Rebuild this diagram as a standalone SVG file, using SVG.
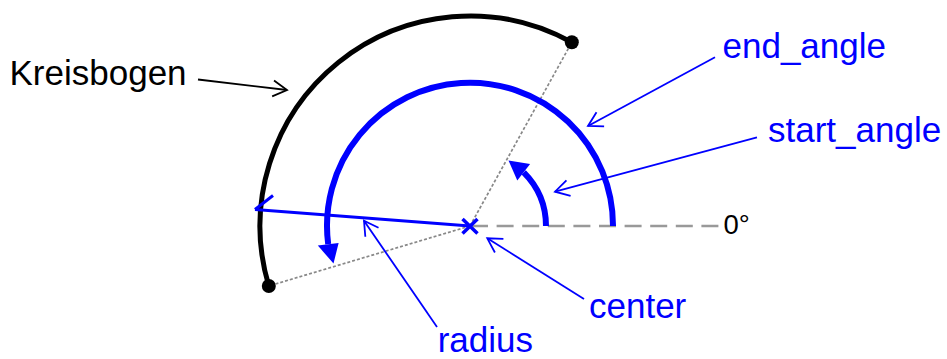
<svg xmlns="http://www.w3.org/2000/svg" width="947" height="359" viewBox="0 0 947 359">
<style>
.lbl{font-family:"Liberation Sans",Arial,sans-serif;font-size:35px}
.blue{fill:#0000ff}
.blk{fill:#000}
.call{fill:none;stroke-width:1.8}
.dot{fill:none;stroke:#888;stroke-width:1.7;stroke-dasharray:3 2}
</style>
<defs>
<marker id="openB" markerUnits="userSpaceOnUse" markerWidth="20" markerHeight="20" viewBox="-16 -10 20 20" refX="0" refY="0" orient="auto" overflow="visible">
<path d="M-14,-8 L0,0 L-14,8" fill="none" stroke="#0000ff" stroke-width="1.8"/>
</marker>
<marker id="openK" markerUnits="userSpaceOnUse" markerWidth="20" markerHeight="20" viewBox="-16 -10 20 20" refX="0" refY="0" orient="auto" overflow="visible">
<path d="M-14,-8 L0,0 L-14,8" fill="none" stroke="#000" stroke-width="1.8"/>
</marker>
</defs>
<rect width="947" height="359" fill="#fff"/>

<g id="guides">
<line x1="470" y1="226" x2="571.8" y2="42.3" class="dot"/>
<line x1="470" y1="226" x2="268.8" y2="286" class="dot"/>
<line x1="471" y1="226" x2="718.5" y2="226" fill="none" stroke="#999" stroke-width="2.5" stroke-dasharray="17 8.6"/>
</g>

<g id="kreisbogen-arc">
<path d="M571.8,42.3 A210,210 0 0 0 268.8,286" fill="none" stroke="#000" stroke-width="5"/>
<circle cx="571.8" cy="42.3" r="7" fill="#000"/>
<circle cx="268.8" cy="286" r="7" fill="#000"/>
</g>

<g id="end-angle-arc">
<path d="M613,226 A143,143 0 1 0 328.2,244.2" fill="none" stroke="#0000ff" stroke-width="6"/>
<polygon points="333.5,263.5 338.6,242.9 317.8,245.5" fill="#0000ff"/>
</g>

<g id="start-angle-arc">
<path d="M546,226 A76,76 0 0 0 523.7,172.3" fill="none" stroke="#0000ff" stroke-width="6"/>
<polygon points="508.5,160.5 530.1,164 517.3,180.6" fill="#0000ff"/>
</g>

<g id="radius-line">
<line x1="470" y1="226" x2="255" y2="209.5" stroke="#0000ff" stroke-width="3"/>
<line x1="255" y1="209.5" x2="273" y2="195.5" stroke="#0000ff" stroke-width="3"/>
</g>

<g id="center-mark">
<path d="M462.5,219 L477.5,233.5 M462.5,233.5 L477.5,219" stroke="#0000ff" stroke-width="3.5" fill="none"/>
</g>

<g id="connectors">
<line x1="198" y1="79.5" x2="287" y2="90" class="call" stroke="#000" marker-end="url(#openK)"/>
<line x1="715" y1="57.3" x2="588" y2="126" class="call" stroke="#0000ff" marker-end="url(#openB)"/>
<line x1="757" y1="137.3" x2="555" y2="191.7" class="call" stroke="#0000ff" marker-end="url(#openB)"/>
<line x1="584" y1="299" x2="487.3" y2="238.3" class="call" stroke="#0000ff" marker-end="url(#openB)"/>
<line x1="437" y1="327" x2="364" y2="220.7" class="call" stroke="#0000ff" marker-end="url(#openB)"/>
</g>

<g id="labels">
<text x="9.5" y="85" class="lbl blk">Kreisbogen</text>
<text x="722.5" y="58.3" class="lbl blue">end_angle</text>
<text x="768" y="141.7" class="lbl blue">start_angle</text>
<text x="589" y="318.3" class="lbl blue">center</text>
<text x="437.7" y="351.7" class="lbl blue">radius</text>
<text x="723.5" y="233.5" font-family="Liberation Sans,Arial,sans-serif" font-size="27.5" fill="#000">0°</text>
</g>
</svg>
